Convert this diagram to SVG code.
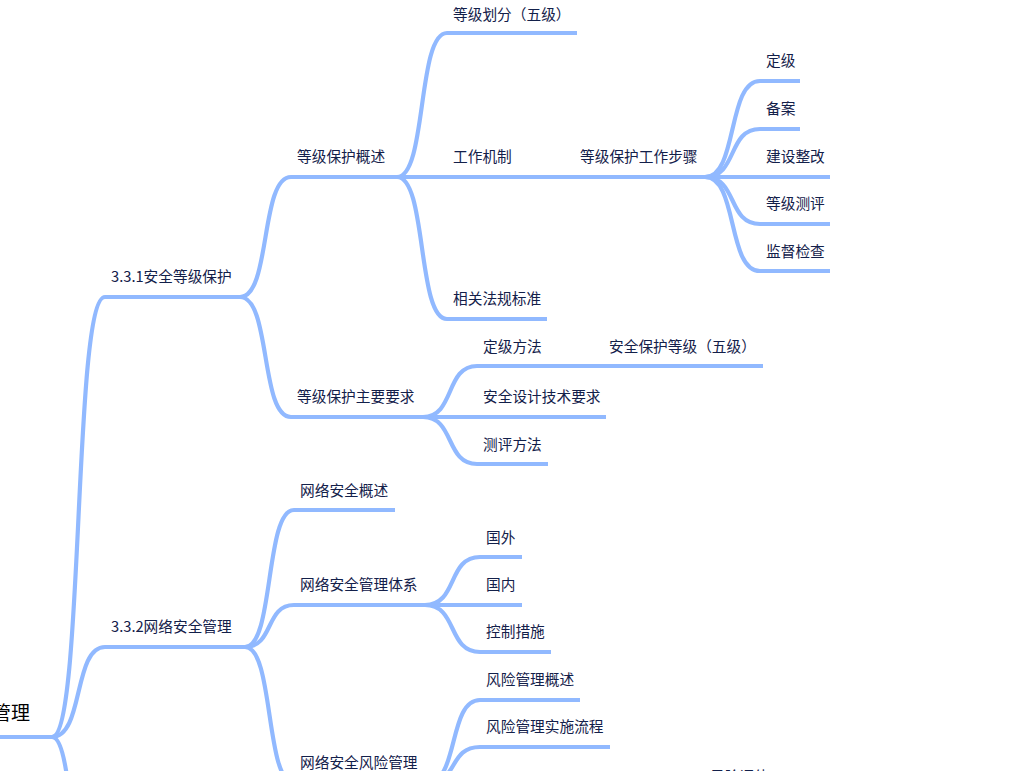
<svg xmlns="http://www.w3.org/2000/svg" width="1014" height="771" viewBox="0 0 1014 771">
<style>
.c{fill:none;stroke:#91b9ff;stroke-width:4.2;stroke-linecap:butt;stroke-linejoin:round}
.t{font-family:"Noto Sans CJK SC","Noto Sans",sans-serif;font-size:14.7px;fill:#13204a;dominant-baseline:central}
.r{font-family:"Noto Sans CJK SC","Noto Sans",sans-serif;font-size:19px;fill:#000;dominant-baseline:central;text-anchor:end}
</style>
<rect width="1014" height="771" fill="#fff"/>
<g id="connectors">
<path class="c" d="M-5 737 L52 737"/>
<path class="c" d="M52 737 C84 737 73 297 105 297 L240 297"/>
<path class="c" d="M52 737 C84 737 73 647 105 647 L245 647"/>
<path class="c" d="M52 737 C84 737 73 1100 105 1100 L240 1100"/>
<path class="c" d="M240 297 C271 297 260 177 291 177 L397 177"/>
<path class="c" d="M240 297 C271 297 260 417 291 417 L423 417"/>
<path class="c" d="M397 177 C427 177 417 33 447 33 L577 33"/>
<path class="c" d="M397 177 L548 177"/>
<path class="c" d="M548 177 L705 177"/>
<path class="c" d="M397 177 C427 177 417 319 447 319 L547 319"/>
<path class="c" d="M705 177 C738 177 727 81 760 81 L800 81"/>
<path class="c" d="M705 177 C738 177 727 129 760 129 L800 129"/>
<path class="c" d="M705 177 L830 177"/>
<path class="c" d="M705 177 C738 177 727 224 760 224 L830 224"/>
<path class="c" d="M705 177 C738 177 727 271 760 271 L830 271"/>
<path class="c" d="M423 417 C455 417 445 366 477 366 L548 366"/>
<path class="c" d="M548 366 L763 366"/>
<path class="c" d="M423 417 L606 417"/>
<path class="c" d="M423 417 C455 417 445 464 477 464 L548 464"/>
<path class="c" d="M245 647 C274 647 265 510 294 510 L395 510"/>
<path class="c" d="M245 647 C274 647 265 605 294 605 L425 605"/>
<path class="c" d="M245 647 C274 647 265 783 294 783 L427 783"/>
<path class="c" d="M425 605 C458 605 447 557 480 557 L522 557"/>
<path class="c" d="M425 605 L522 605"/>
<path class="c" d="M425 605 C458 605 447 652 480 652 L551 652"/>
<path class="c" d="M427 783 C459 783 448 700 480 700 L580 700"/>
<path class="c" d="M427 783 C459 783 448 747 480 747 L610 747"/>
</g>
<g id="root"><text class="r" x="30" y="711">管理</text></g>
<g id="n331"><text class="t" x="111" y="275.5">3.3.1安全等级保护</text></g>
<g id="n332"><text class="t" x="111" y="625.5">3.3.2网络安全管理</text></g>
<g id="n-gs"><text class="t" x="297" y="155.5">等级保护概述</text></g>
<g id="n-zy"><text class="t" x="297" y="395.5">等级保护主要要求</text></g>
<g id="n-hf"><text class="t" x="453" y="13.5">等级划分（五级）</text></g>
<g id="n-jz"><text class="t" x="453" y="155.5">工作机制</text></g>
<g id="n-fg"><text class="t" x="453" y="297.5">相关法规标准</text></g>
<g id="n-bz"><text class="t" x="580" y="155.5">等级保护工作步骤</text></g>
<g id="n-dj"><text class="t" x="766" y="59.5">定级</text></g>
<g id="n-ba"><text class="t" x="766" y="107.5">备案</text></g>
<g id="n-js"><text class="t" x="766" y="155.5">建设整改</text></g>
<g id="n-cp"><text class="t" x="766" y="202.5">等级测评</text></g>
<g id="n-jd"><text class="t" x="766" y="250.5">监督检查</text></g>
<g id="n-djff"><text class="t" x="483" y="345.5">定级方法</text></g>
<g id="n-aqdj"><text class="t" x="609" y="345.5">安全保护等级（五级）</text></g>
<g id="n-sj"><text class="t" x="483" y="395.5">安全设计技术要求</text></g>
<g id="n-cpff"><text class="t" x="483" y="443.5">测评方法</text></g>
<g id="n-wlgs"><text class="t" x="300" y="489.5">网络安全概述</text></g>
<g id="n-tx"><text class="t" x="300" y="583.5">网络安全管理体系</text></g>
<g id="n-fx"><text class="t" x="300" y="761.5">网络安全风险管理</text></g>
<g id="n-gw"><text class="t" x="486" y="536.5">国外</text></g>
<g id="n-gn"><text class="t" x="486" y="583.5">国内</text></g>
<g id="n-kz"><text class="t" x="486" y="630.5">控制措施</text></g>
<g id="n-fxgs"><text class="t" x="486" y="678.5">风险管理概述</text></g>
<g id="n-lc"><text class="t" x="486" y="725.5">风险管理实施流程</text></g>
<g id="n-pg"><text class="t" x="710" y="775">风险评估</text></g>
</svg>
